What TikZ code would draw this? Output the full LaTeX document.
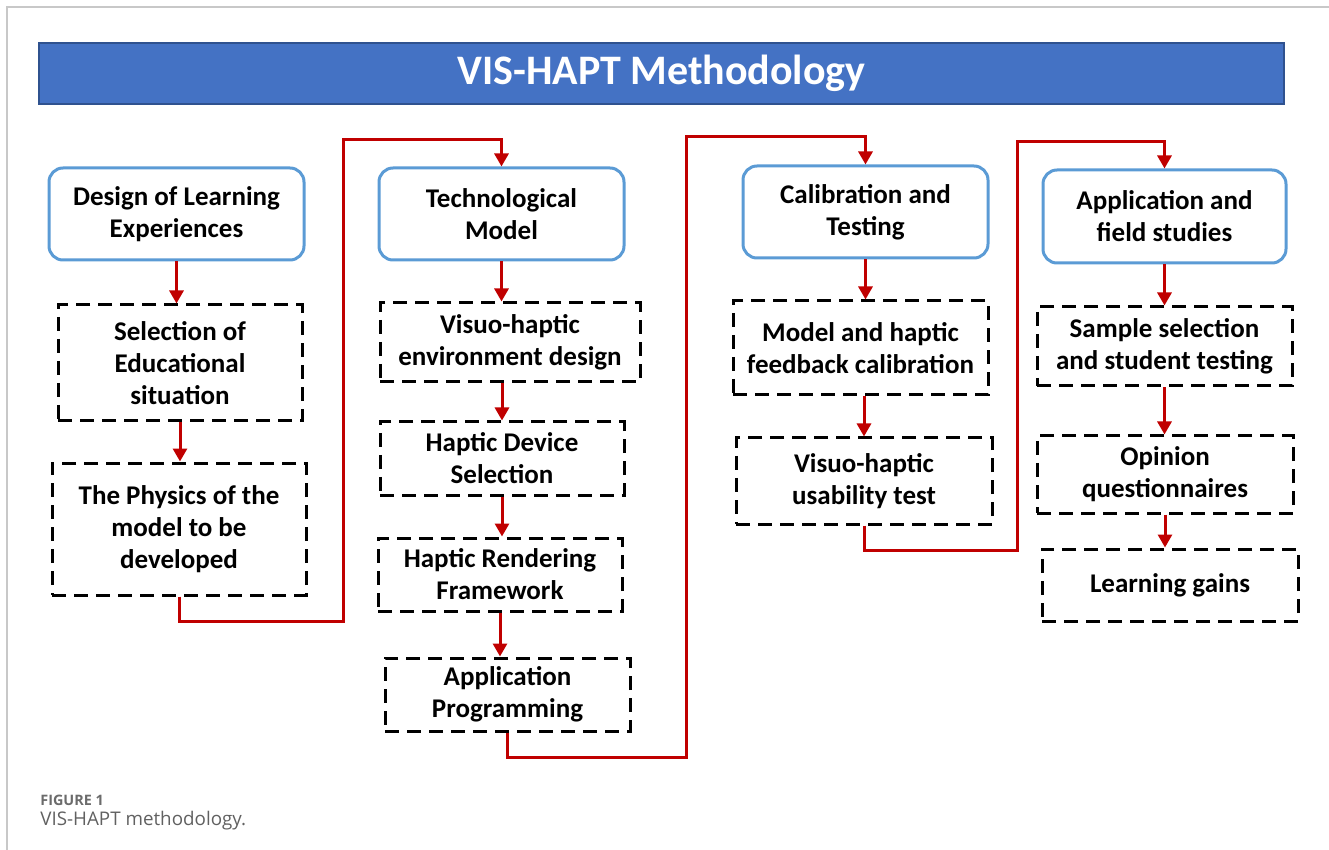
\documentclass[tikz,border=0pt]{standalone}
\usepackage{fontspec}
\setmainfont{Carlito}
\newfontfamily\capfont{Open Sans}
\usetikzlibrary{arrows.meta}

\definecolor{barblue}{HTML}{4472C4}
\definecolor{bardark}{HTML}{2F528F}
\definecolor{headblue}{HTML}{5B9BD5}
\definecolor{flowred}{HTML}{C00000}
\definecolor{framegray}{HTML}{C8C8C8}

\tikzset{
  head/.style={draw=headblue, line width=1.5pt, rounded corners=7pt, fill=white,
    align=center, inner sep=0pt, minimum width=122.5pt, minimum height=46pt,
    font=\fontsize{13.5}{16}\selectfont\bfseries},
  stepbox/.style={draw=black, line width=1.5pt, dash pattern=on 7pt off 4pt,
    align=center, inner sep=0pt, minimum width=122pt, minimum height=36.5pt,
    font=\fontsize{13.5}{16}\selectfont\bfseries},
  flow/.style={draw=flowred, line width=1.5pt, line join=miter,
    -{Triangle[width=7pt,length=6.5pt]}},
}

\begin{document}
\begin{tikzpicture}[x=0.5pt,y=-0.5pt]
    \useasboundingbox (0,0) rectangle (1329,850);
    % Rahmen
    \draw[framegray, line width=0.75pt] (1329,7) -- (7,7) -- (7,850);

    % Titelbalken
    \node[draw=bardark, line width=0.75pt, fill=barblue, minimum width=622.5pt,
      minimum height=30.5pt, inner sep=0pt, text=white,
      font=\fontsize{21}{24}\selectfont\bfseries] (title) at (661.5,73.5) {VIS-HAPT Methodology};

    % Spalte 1
    \node[head, minimum width=127.5pt] (design) at (176.5,214) {Design of Learning\\Experiences};
    \node[stepbox, minimum height=58pt] (sel) at (180,363) {Selection of\\Educational\\situation};
    \node[stepbox, minimum width=127pt, minimum height=66pt] (phys) at (179,529) {The Physics of the\\model to be\\developed};

    % Spalte 2
    \node[head] (tech) at (501.5,214) {Technological\\Model};
    \node[stepbox, minimum width=130pt, minimum height=39.5pt] (visuo) at (510,342.5) {Visuo-haptic\\environment design};
    \node[stepbox] (device) at (502,458.5) {Haptic Device\\Selection};
    \node[stepbox] (render) at (500,574.5) {Haptic Rendering\\Framework};
    \node[stepbox, minimum width=122.5pt] (prog) at (507.5,694.5) {Application\\Programming};

    % Spalte 3
    \node[head] (calib) at (865.5,212) {Calibration and\\Testing};
    \node[stepbox, minimum width=127.5pt, minimum height=47pt] (model) at (860.5,348) {Model and haptic\\feedback calibration};
    \node[stepbox, minimum width=128pt, minimum height=43pt] (usab) at (864,481) {Visuo-haptic\\usability test};

    % Spalte 4
    \node[head, minimum width=121.5pt, minimum height=46.5pt] (appl) at (1164.5,216.5) {Application and\\field studies};
    \node[stepbox, minimum width=127.5pt, minimum height=39.5pt] (sample) at (1164.5,346.5) {Sample selection\\and student testing};
    \node[stepbox, minimum width=128pt, minimum height=38.5pt] (opinion) at (1165,474.5) {Opinion\\questionnaires};
    \node[stepbox, minimum width=128pt, minimum height=36pt] (gains) at (1170,585) {Learning gains};

    % Pfeile innerhalb der Spalten
    \draw[flow] (design.south) -- (design.south |- sel.north);
    \draw[flow] (sel.south) -- (sel.south |- phys.north);
    \draw[flow] (tech.south) -- (tech.south |- visuo.north);
    \draw[flow] (device.north |- visuo.south) -- (device.north);
    \draw[flow] (device.south) -- (device.south |- render.north);
    \draw[flow] (render.south) -- (render.south |- prog.north);
    \draw[flow] (calib.south) -- (calib.south |- model.north);
    \draw[flow] (usab.north |- model.south) -- (usab.north);
    \draw[flow] (appl.south) -- (appl.south |- sample.north);
    \draw[flow] (sample.south) -- (sample.south |- opinion.north);
    \draw[flow] (opinion.south) -- (opinion.south |- gains.north);

    % Uebergaenge zwischen den Spalten
    \coordinate (lowA) at (343,621);
    \coordinate (topA) at (343,140);
    \draw[flow] (phys.south) |- (lowA) -- (topA) -| (tech.north);
    \coordinate (lowB) at (686,757);
    \coordinate (topB) at (686,137);
    \draw[flow] (prog.south) |- (lowB) -- (topB) -| (calib.north);
    \coordinate (lowC) at (1017,550);
    \coordinate (topC) at (1017,142);
    \draw[flow] (usab.south) |- (lowC) -- (topC) -| (appl.north);

    % Bildunterschrift
    \node[anchor=base west, inner sep=0pt, text=black!58, font=\capfont\fontsize{7.2}{8}\selectfont\bfseries] (figno) at (40,805) {FIGURE 1};
    \node[anchor=base west, inner sep=0pt, text=black!62, font=\capfont\fontsize{9.4}{10}\selectfont] (caption) at (40,825) {VIS-HAPT methodology.};
\end{tikzpicture}
\end{document}
